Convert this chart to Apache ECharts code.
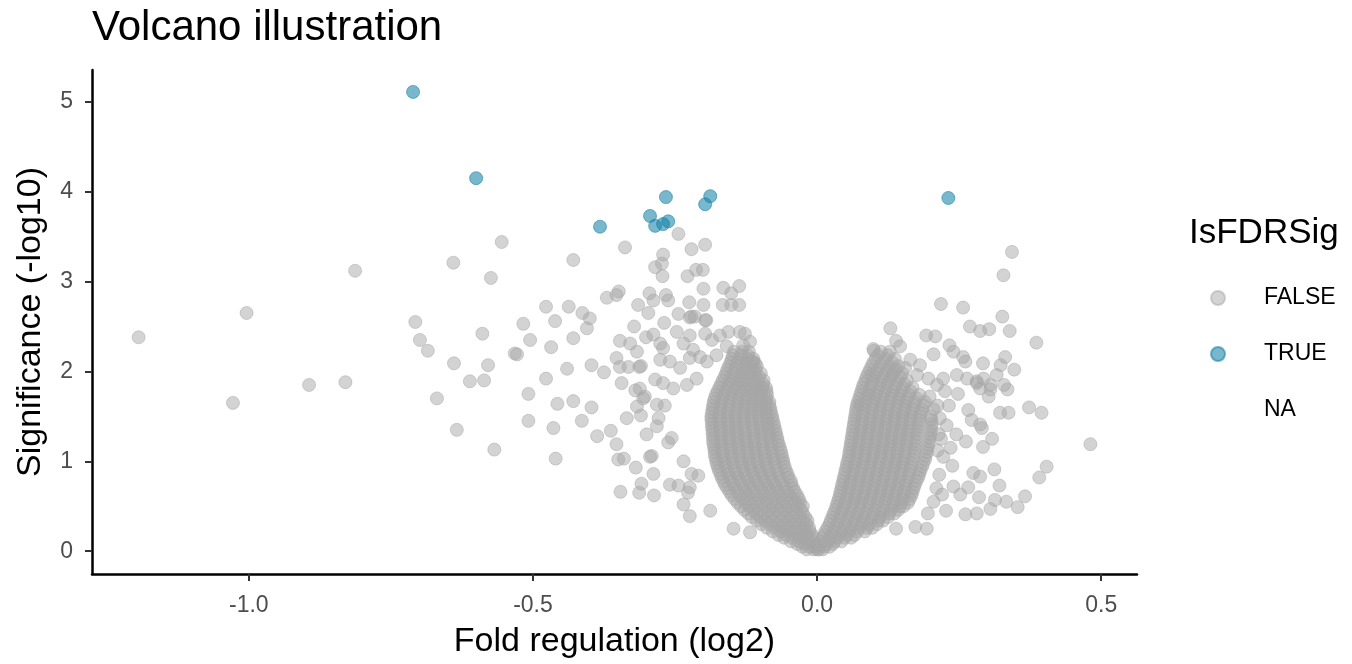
<!DOCTYPE html>
<html><head><meta charset="utf-8">
<script src="https://cdn.jsdelivr.net/npm/echarts@6/dist/echarts.min.js"></script>
<style>html,body{margin:0;padding:0;background:#fff}#c{width:1352px;height:664px}</style>
</head><body><div id="c"></div>
<script>
const xTicks=[-1,-0.5,0,0.5];
const yTicks=[0,1,2,3,4,5];
const legendLabels=['FALSE','TRUE','NA'];

// IsFDRSig = TRUE
const sigPoints=[[-0.711,5.11],[-0.600,4.15],[-0.382,3.61],[-0.294,3.73],[-0.285,3.62],[-0.271,3.64],[-0.262,3.67],[-0.266,3.94],[-0.197,3.86],[-0.188,3.95],[0.231,3.93]];

// IsFDRSig = FALSE, sparse points left of zero
const nsScatterLeft=[[-0.555,3.44],[-0.640,3.21],[-0.574,3.04],[-0.813,3.12],[-1.004,2.65],[-1.194,2.38],[-0.707,2.55],[-0.699,2.35],[-0.685,2.23],[-0.589,2.42],[-0.517,2.53],[-0.505,2.35],[-0.532,2.20],[-0.528,2.19],[-0.639,2.09],[-0.579,2.07],[-0.611,1.89],[-0.586,1.90],[-0.830,1.88],[-0.894,1.85],[-1.028,1.65],[-0.669,1.70],[-0.508,1.75],[-0.508,1.45],[-0.634,1.35],[-0.568,1.13],[-0.460,1.03],
[-0.338,3.38],[-0.429,3.24],[-0.244,3.53],[-0.221,3.36],[-0.197,3.41],[-0.271,3.30],[-0.285,3.16],[-0.273,3.20],[-0.272,3.06],[-0.228,3.06],[-0.213,3.13],[-0.201,3.13],[-0.200,2.92],[-0.165,2.93],[-0.151,2.87],[-0.137,2.95],[-0.166,2.74],[-0.151,2.74],[-0.137,2.74],[-0.370,2.82],[-0.353,2.85],[-0.349,2.89],[-0.315,2.74],[-0.295,2.87],[-0.288,2.79],[-0.266,2.85],[-0.262,2.79],[-0.477,2.72],[-0.437,2.72],[-0.461,2.56],[-0.413,2.65],[-0.400,2.59],[-0.405,2.48],[-0.297,2.65],[-0.269,2.54],[-0.244,2.64],[-0.225,2.77],[-0.200,2.74],[-0.221,2.61],[-0.197,2.57],[-0.322,2.50],[-0.468,2.27],[-0.429,2.37],[-0.347,2.34],[-0.329,2.31],[-0.317,2.22],[-0.301,2.38],[-0.288,2.41],[-0.276,2.31],[-0.271,2.26],[-0.440,2.03],[-0.397,2.07],[-0.375,1.99],[-0.353,2.15],[-0.347,2.05],[-0.332,2.05],[-0.313,2.05],[-0.276,2.13],[-0.477,1.92],
[-0.457,1.64],[-0.429,1.67],[-0.397,1.60],[-0.464,1.37],[-0.414,1.45],[-0.344,1.87],[-0.320,1.79],[-0.306,1.70],[-0.317,1.61],[-0.310,1.51],[-0.335,1.48],[-0.387,1.28],[-0.363,1.34],[-0.353,1.19],[-0.350,1.02],[-0.340,1.03],[-0.319,0.93],[-0.294,1.05],[-0.288,0.86],[-0.309,0.75],[-0.313,0.65],[-0.346,0.66],[-0.287,0.62],[-0.282,1.63],[-0.268,1.62],[-0.285,1.91],[-0.271,1.87],[-0.279,1.48],[-0.282,1.39],[-0.300,1.30],[-0.256,1.26],[-0.262,1.21],[-0.235,1.00],[-0.221,0.86],[-0.259,0.74],[-0.244,0.73],[-0.227,0.65],[-0.235,0.52],[-0.224,0.39],[-0.188,0.45],[-0.147,0.25],[-0.118,0.21],
[-0.224,2.60],[-0.215,2.61],[-0.195,2.57],[-0.156,2.44],[-0.136,2.44],[-0.127,2.42],[-0.118,2.33],[-0.130,2.29],[-0.112,2.11],[-0.109,2.09],[-0.247,2.44],[-0.224,2.40],[-0.197,2.42],[-0.171,2.40],[-0.235,2.31],[-0.218,2.24],[-0.185,2.35],[-0.159,2.28],[-0.259,2.11],[-0.241,2.04],[-0.224,2.15],[-0.206,2.16],[-0.194,2.11],[-0.177,2.18],[-0.253,1.81],[-0.229,1.85],[-0.212,1.92],[-0.310,2.06],[-0.312,1.81],[-0.303,1.72],[-0.291,1.06],[-0.224,0.71],[-0.209,0.84]];

// IsFDRSig = FALSE, sparse points right of zero
const nsScatterRight=[[0.343,3.33],[0.328,3.07],[0.218,2.75],[0.257,2.71],[0.326,2.61],[0.269,2.50],[0.287,2.45],[0.303,2.47],[0.339,2.45],[0.386,2.32],[0.129,2.48],[0.139,2.34],[0.146,2.28],[0.099,2.25],[0.100,2.23],[0.192,2.40],[0.208,2.39],[0.233,2.29],[0.240,2.22],[0.257,2.16],[0.261,2.11],[0.292,2.09],[0.323,2.07],[0.331,2.16],[0.347,2.02],[0.205,2.19],[0.181,2.07],[0.164,2.13],[0.155,2.04],[0.134,2.02],[0.131,1.96],[0.096,1.96],[0.093,1.74],[0.076,1.63],[0.246,1.96],[0.264,1.92],[0.281,1.89],[0.293,1.92],[0.305,1.85],[0.287,1.81],[0.176,1.96],[0.196,1.92],[0.211,1.85],[0.222,1.92],
[0.281,1.87],[0.305,1.80],[0.316,1.96],[0.329,1.85],[0.335,1.80],[0.302,1.72],[0.322,1.54],[0.337,1.54],[0.373,1.60],[0.395,1.54],[0.266,1.57],[0.272,1.46],[0.287,1.41],[0.290,1.37],[0.262,1.22],[0.308,1.25],[0.292,1.16],[0.481,1.19],[0.404,0.94],[0.391,0.82],[0.275,0.87],[0.287,0.83],[0.312,0.91],[0.321,0.73],[0.240,0.72],[0.252,0.63],[0.266,0.71],[0.220,0.63],[0.285,0.60],[0.313,0.57],[0.333,0.55],[0.366,0.61],[0.353,0.49],[0.261,0.41],[0.281,0.42],[0.305,0.47],[0.227,0.45],[0.193,0.25],[0.173,0.27],[0.139,0.25],
[0.215,0.85],[0.222,1.05],[0.218,1.25],[0.228,1.40],[0.235,1.15],[0.245,1.30],[0.232,1.62],[0.248,1.75],[0.225,1.78],[0.212,1.62],[0.238,0.95],[0.205,0.55],[0.195,0.42],[0.210,0.70],[0.212,1.12],[0.214,1.30],[0.216,1.48],[0.205,1.58],[0.198,1.72]];

// IsFDRSig = FALSE, dense core of the left arm: [significance, fold values...]
const nsCoreLeftRows=[
[0.02,-0.018,-0.006,0.003],
[0.05,-0.026,-0.014,-0.004],
[0.08,-0.035,-0.022,-0.010,-0.002],
[0.11,-0.046,-0.033,-0.021,-0.009],
[0.15,-0.058,-0.044,-0.031,-0.019,-0.008],
[0.18,-0.068,-0.055,-0.042,-0.029,-0.017,-0.008],
[0.22,-0.078,-0.064,-0.050,-0.037,-0.024,-0.013],
[0.26,-0.088,-0.074,-0.061,-0.047,-0.034,-0.022,-0.014],
[0.30,-0.098,-0.083,-0.069,-0.055,-0.041,-0.029,-0.018],
[0.34,-0.106,-0.092,-0.078,-0.064,-0.050,-0.037,-0.025,-0.017],
[0.38,-0.115,-0.100,-0.086,-0.072,-0.058,-0.045,-0.032,-0.021],
[0.42,-0.121,-0.107,-0.093,-0.079,-0.065,-0.051,-0.037,-0.025],
[0.46,-0.128,-0.113,-0.099,-0.084,-0.070,-0.056,-0.042,-0.028],
[0.50,-0.134,-0.119,-0.105,-0.090,-0.076,-0.062,-0.048,-0.034,-0.025],
[0.54,-0.140,-0.125,-0.110,-0.096,-0.081,-0.067,-0.053,-0.039,-0.030],
[0.58,-0.145,-0.130,-0.116,-0.101,-0.087,-0.072,-0.058,-0.044,-0.032],
[0.62,-0.150,-0.135,-0.121,-0.106,-0.092,-0.077,-0.063,-0.049,-0.035],
[0.66,-0.154,-0.139,-0.125,-0.110,-0.096,-0.081,-0.067,-0.053,-0.039],
[0.70,-0.158,-0.143,-0.128,-0.114,-0.099,-0.085,-0.071,-0.057,-0.042],
[0.74,-0.162,-0.147,-0.132,-0.118,-0.103,-0.089,-0.074,-0.060,-0.045],
[0.78,-0.165,-0.150,-0.136,-0.121,-0.107,-0.092,-0.078,-0.063,-0.046],
[0.82,-0.168,-0.153,-0.139,-0.124,-0.110,-0.095,-0.081,-0.066,-0.050],
[0.86,-0.170,-0.156,-0.141,-0.127,-0.112,-0.098,-0.083,-0.069,-0.052],
[0.90,-0.173,-0.158,-0.144,-0.129,-0.115,-0.100,-0.086,-0.071,-0.055],
[0.94,-0.175,-0.160,-0.146,-0.131,-0.117,-0.102,-0.088,-0.073,-0.057],
[0.98,-0.177,-0.162,-0.148,-0.133,-0.119,-0.104,-0.090,-0.075,-0.059],
[1.02,-0.178,-0.163,-0.149,-0.134,-0.120,-0.105,-0.091,-0.076,-0.060],
[1.06,-0.180,-0.165,-0.150,-0.136,-0.121,-0.107,-0.092,-0.078,-0.062],
[1.10,-0.180,-0.166,-0.151,-0.137,-0.122,-0.108,-0.093,-0.079,-0.063],
[1.14,-0.181,-0.167,-0.152,-0.138,-0.123,-0.109,-0.094,-0.080,-0.065],
[1.18,-0.182,-0.168,-0.153,-0.139,-0.124,-0.110,-0.095,-0.081,-0.067],
[1.22,-0.183,-0.168,-0.154,-0.139,-0.125,-0.111,-0.096,-0.082,-0.069],
[1.26,-0.183,-0.169,-0.154,-0.140,-0.126,-0.111,-0.097,-0.083,-0.070],
[1.30,-0.184,-0.169,-0.155,-0.141,-0.126,-0.112,-0.098,-0.084,-0.072],
[1.34,-0.184,-0.170,-0.155,-0.141,-0.127,-0.112,-0.098,-0.085,-0.073],
[1.38,-0.185,-0.170,-0.156,-0.142,-0.128,-0.113,-0.099,-0.086,-0.075],
[1.42,-0.185,-0.171,-0.156,-0.142,-0.128,-0.114,-0.100,-0.087,-0.076],
[1.46,-0.186,-0.171,-0.157,-0.143,-0.129,-0.115,-0.101,-0.088,-0.078],
[1.50,-0.186,-0.172,-0.157,-0.143,-0.129,-0.115,-0.102,-0.089,-0.079],
[1.54,-0.185,-0.171,-0.157,-0.143,-0.129,-0.116,-0.103,-0.090,-0.081],
[1.58,-0.184,-0.170,-0.156,-0.142,-0.128,-0.115,-0.103,-0.091,-0.082],
[1.62,-0.183,-0.169,-0.155,-0.141,-0.128,-0.115,-0.103,-0.091,-0.084],
[1.66,-0.182,-0.168,-0.154,-0.140,-0.127,-0.114,-0.102,-0.090,-0.084],
[1.70,-0.180,-0.166,-0.152,-0.139,-0.126,-0.113,-0.101,-0.089],
[1.74,-0.178,-0.164,-0.150,-0.137,-0.124,-0.112,-0.100,-0.088],
[1.78,-0.175,-0.161,-0.148,-0.135,-0.122,-0.110,-0.098,-0.089],
[1.82,-0.172,-0.158,-0.145,-0.132,-0.120,-0.108,-0.096,-0.090],
[1.86,-0.169,-0.155,-0.142,-0.130,-0.118,-0.106,-0.095],
[1.90,-0.166,-0.152,-0.139,-0.127,-0.115,-0.104,-0.094],
[1.94,-0.163,-0.149,-0.136,-0.124,-0.113,-0.102],
[1.98,-0.160,-0.146,-0.133,-0.121,-0.110,-0.099],
[2.02,-0.158,-0.144,-0.131,-0.119,-0.108],
[2.06,-0.155,-0.141,-0.128,-0.116,-0.106],
[2.10,-0.152,-0.139,-0.126,-0.114],
[2.14,-0.150,-0.136,-0.123,-0.112],
[2.18,-0.148,-0.134,-0.122],
[2.22,-0.146,-0.132,-0.120]];

// IsFDRSig = FALSE, dense core of the right arm: [significance, fold values...]
const nsCoreRightRows=[
[0.02,0.000,0.010],
[0.05,0.002,0.013,0.022],
[0.08,0.004,0.016,0.028],
[0.11,0.007,0.019,0.031,0.043],
[0.15,0.010,0.023,0.036,0.049,0.060],
[0.18,0.012,0.026,0.040,0.053,0.066],
[0.22,0.015,0.029,0.043,0.057,0.071,0.084],
[0.26,0.018,0.032,0.046,0.060,0.074,0.088,0.097],
[0.30,0.022,0.036,0.050,0.064,0.078,0.092,0.105],
[0.34,0.024,0.038,0.052,0.066,0.080,0.094,0.108,0.116],
[0.38,0.027,0.041,0.055,0.069,0.083,0.097,0.111,0.125],
[0.42,0.029,0.043,0.057,0.071,0.085,0.099,0.113,0.127,0.136],
[0.46,0.032,0.046,0.060,0.074,0.088,0.102,0.116,0.130,0.143],
[0.50,0.034,0.048,0.062,0.076,0.090,0.104,0.118,0.132,0.146,0.152],
[0.54,0.036,0.050,0.064,0.078,0.092,0.106,0.120,0.134,0.148,0.160],
[0.58,0.038,0.052,0.066,0.080,0.094,0.108,0.122,0.136,0.150,0.163],
[0.62,0.040,0.054,0.068,0.082,0.096,0.110,0.124,0.138,0.152,0.166],
[0.66,0.041,0.055,0.069,0.083,0.097,0.111,0.125,0.139,0.153,0.168],
[0.70,0.043,0.057,0.071,0.085,0.099,0.113,0.127,0.141,0.155,0.170],
[0.74,0.044,0.058,0.072,0.086,0.100,0.114,0.128,0.142,0.156,0.172],
[0.78,0.046,0.060,0.074,0.088,0.102,0.116,0.130,0.144,0.158,0.175],
[0.82,0.047,0.061,0.075,0.089,0.103,0.117,0.131,0.145,0.160,0.178],
[0.86,0.049,0.063,0.077,0.091,0.105,0.119,0.133,0.147,0.162,0.180],
[0.90,0.050,0.064,0.078,0.092,0.106,0.120,0.134,0.148,0.163,0.182],
[0.94,0.052,0.066,0.080,0.094,0.108,0.122,0.136,0.150,0.165,0.185],
[0.98,0.053,0.067,0.081,0.095,0.109,0.123,0.137,0.151,0.166,0.187],
[1.02,0.055,0.069,0.083,0.097,0.111,0.125,0.139,0.153,0.168,0.190],
[1.06,0.056,0.070,0.084,0.098,0.112,0.126,0.140,0.154,0.170,0.191],
[1.10,0.057,0.071,0.085,0.099,0.113,0.127,0.141,0.155,0.171,0.193],
[1.14,0.058,0.072,0.086,0.100,0.114,0.128,0.142,0.156,0.172,0.194],
[1.18,0.059,0.073,0.087,0.101,0.115,0.129,0.143,0.157,0.173,0.196],
[1.22,0.060,0.074,0.088,0.102,0.116,0.130,0.144,0.158,0.174,0.197],
[1.26,0.061,0.075,0.089,0.103,0.117,0.131,0.145,0.159,0.175,0.198],
[1.30,0.062,0.076,0.090,0.104,0.118,0.132,0.146,0.160,0.176,0.199],
[1.34,0.063,0.077,0.091,0.105,0.119,0.133,0.147,0.161,0.177,0.200],
[1.38,0.064,0.078,0.092,0.106,0.120,0.134,0.148,0.162,0.178,0.201],
[1.42,0.065,0.079,0.093,0.107,0.121,0.135,0.149,0.163,0.179,0.202],
[1.46,0.066,0.080,0.094,0.108,0.122,0.136,0.150,0.164,0.180,0.201],
[1.50,0.067,0.081,0.095,0.109,0.123,0.137,0.151,0.165,0.181,0.200],
[1.54,0.068,0.082,0.096,0.110,0.124,0.138,0.152,0.166,0.183],
[1.58,0.069,0.083,0.097,0.111,0.125,0.139,0.153,0.168,0.185],
[1.62,0.070,0.084,0.098,0.112,0.126,0.140,0.155,0.170,0.188],
[1.66,0.072,0.086,0.100,0.114,0.128,0.142,0.156,0.171,0.190],
[1.70,0.074,0.088,0.102,0.116,0.130,0.144,0.158,0.175],
[1.74,0.076,0.090,0.104,0.118,0.132,0.146,0.161,0.180],
[1.78,0.078,0.092,0.106,0.120,0.134,0.148,0.164],
[1.82,0.080,0.094,0.108,0.122,0.136,0.151,0.168],
[1.86,0.082,0.096,0.110,0.124,0.139,0.154],
[1.90,0.085,0.099,0.113,0.127,0.142,0.158],
[1.94,0.087,0.101,0.116,0.131,0.146],
[1.98,0.090,0.104,0.119,0.134,0.150],
[2.02,0.093,0.107,0.123,0.139],
[2.06,0.096,0.111,0.127,0.143],
[2.10,0.099,0.115,0.132],
[2.14,0.103,0.120,0.137],
[2.18,0.107,0.124],
[2.22,0.112,0.128]];

function rowsToPoints(rows){const out=[];rows.forEach(r=>{for(let i=1;i<r.length;i++)out.push([r[i],r[0]]);});return out;}
const nsPoints=nsScatterLeft.concat(nsScatterRight,rowsToPoints(nsCoreLeftRows),rowsToPoints(nsCoreRightRows));

const FONT='"Liberation Sans", Arial, Helvetica, sans-serif';
const chart=echarts.init(document.getElementById('c'),null,{renderer:'canvas'});
const gray='rgba(165,165,165,0.62)';
const blue='rgba(22,130,168,0.72)';
chart.setOption({
  animation:false,
  textStyle:{fontFamily:FONT},
  title:[
    {text:'Volcano illustration',left:92,top:7,padding:0,textStyle:{fontSize:42,fontWeight:'normal',color:'#000',fontFamily:FONT}},
    {text:'IsFDRSig',left:1189,top:216,padding:0,textStyle:{fontSize:35,fontWeight:'normal',color:'#000',fontFamily:FONT}}
  ],
  legend:{orient:'vertical',left:1205,top:281,itemWidth:14,itemHeight:14,itemGap:32,icon:'circle',selectedMode:false,
    data:legendLabels,textStyle:{fontSize:23,color:'#000',fontFamily:FONT,lineHeight:24,padding:[0,0,0,34]}},
  grid:{left:92,right:215,top:70,bottom:87},
  xAxis:{type:'value',min:-1.276,max:0.563,
    axisLine:{onZero:false,lineStyle:{color:'#000',width:2.5}},
    axisTick:{customValues:xTicks,length:7,lineStyle:{color:'#333',width:2}},
    axisLabel:{customValues:xTicks,formatter:v=>v.toFixed(1),fontSize:23,color:'#4d4d4d',margin:20,fontFamily:FONT},
    splitLine:{show:false},
    name:'Fold regulation (log2)',nameLocation:'middle',nameGap:51,nameTextStyle:{fontSize:34,color:'#000',fontFamily:FONT}},
  yAxis:{type:'value',min:-0.254,max:5.354,
    axisLine:{onZero:false,lineStyle:{color:'#000',width:2.5}},
    axisTick:{customValues:yTicks,length:7,lineStyle:{color:'#333',width:2}},
    axisLabel:{customValues:yTicks,formatter:v=>String(v),fontSize:23,color:'#4d4d4d',margin:19,fontFamily:FONT},
    splitLine:{show:false},
    name:'Significance (-log10)',nameLocation:'middle',nameGap:44,nameRotate:90,nameTextStyle:{fontSize:34,color:'#000',fontFamily:FONT}},
  series:[
    {name:'FALSE',type:'scatter',data:nsPoints,symbolSize:13,silent:true,
      itemStyle:{color:gray,borderColor:gray,borderWidth:1}},
    {name:'TRUE',type:'scatter',data:sigPoints,symbolSize:13,silent:true,
      itemStyle:{color:blue,borderColor:blue,borderWidth:1}},
    {name:'NA',type:'scatter',data:[],itemStyle:{color:'rgba(0,0,0,0)',borderColor:'rgba(0,0,0,0)'}}
  ]
});
</script></body></html>
